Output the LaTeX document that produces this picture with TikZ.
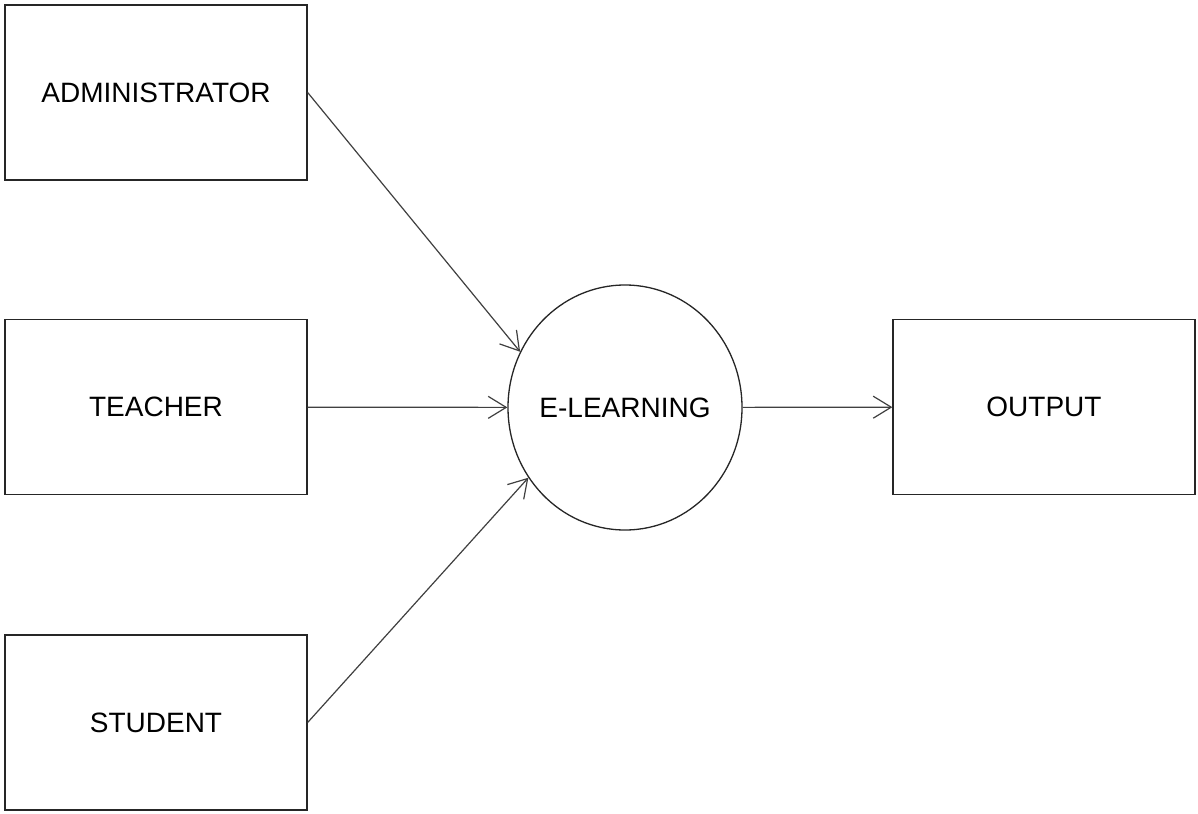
\documentclass[tikz,border=0pt]{standalone}
\usepackage{fontspec}
\setmainfont{Liberation Sans}
\usetikzlibrary{arrows.meta,shapes.geometric}
\begin{document}
\begin{tikzpicture}[x=1pt,y=-1pt,
  caption/.style={font=\fontsize{28}{32}\selectfont},
  box/.style={draw=black!85,line width=1.3pt,minimum width=302pt,minimum height=175pt,inner sep=0pt,caption},
  hub/.style={ellipse,draw=black!85,line width=1.3pt,minimum width=234pt,minimum height=245pt,inner sep=0pt},
  flow/.style={draw=black!75,line width=1.2pt,-{Straight Barb[length=18pt,width=22pt,line width=1.2pt]}}]
\useasboundingbox[fill=white] (0,0) rectangle (1198,813);
\node[box] (admin) at (156,92.5) {ADMINISTRATOR};
\node[box] (teacher) at (156,407) {TEACHER};
\node[box] (student) at (156,722.5) {STUDENT};
\node[box] (output) at (1044,407) {OUTPUT};
% the ellipse keeps its own size; its caption is set on top of it
\node[hub] (elearn) at (625,407.5) {};
\node[caption] (elearntext) at (elearn.center) {E-LEARNING};
\draw[flow] (admin.east) -- (elearn.152);
\draw[flow] (teacher) -- (elearn);
\draw[flow] (student.east) -- (elearn.216);
\draw[flow] (elearn) -- (output);
\end{tikzpicture}
\end{document}
